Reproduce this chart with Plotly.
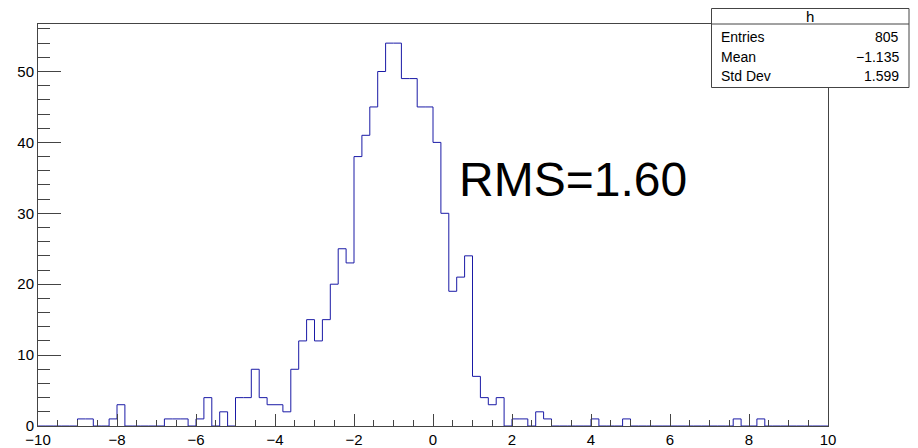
import numpy as np
import plotly.graph_objects as go

# ---- data ----
x_min, x_max, n_bins = -10.0, 10.0, 100
counts = [
    0, 0, 0, 0, 0, 1, 1, 0, 0, 1,
    3, 0, 0, 0, 0, 0, 1, 1, 1, 0,
    1, 4, 0, 2, 0, 4, 4, 8, 4, 3,
    3, 2, 8, 12, 15, 12, 15, 20, 25, 23,
    38, 41, 45, 50, 54, 54, 49, 49, 45, 45,
    40, 30, 19, 21, 24, 7, 4, 3, 4, 0,
    1, 1, 0, 2, 1, 0, 0, 0, 0, 0,
    1, 0, 0, 0, 1, 0, 0, 0, 0, 0,
    0, 0, 0, 0, 0, 0, 0, 0, 1, 0,
    0, 1, 0, 0, 0, 0, 0, 0, 0, 0,
]
hist_name = "h"
stat_labels = ["Entries", "Mean", "Std Dev"]
stat_values = ["805", "\u22121.135", "1.599"]
rms_text = "RMS=1.60"

edges = np.linspace(x_min, x_max, n_bins + 1)
y_step = list(counts) + [counts[-1]]
y_max = max(counts) * 1.05

FONT = "Liberation Sans, Arial, Helvetica, sans-serif"
AX = "#444444"

fig = go.Figure()
fig.add_trace(go.Scatter(
    x=edges, y=y_step, mode="lines", line_shape="hv",
    line=dict(color="#1a1aa6", width=1), hoverinfo="skip", showlegend=False,
))

fig.update_layout(
    width=918, height=448,
    margin=dict(l=38, r=90, t=24, b=22, autoexpand=False),
    paper_bgcolor="white", plot_bgcolor="white",
    font=dict(family=FONT, size=15, color="black"),
    showlegend=False,
)
fig.update_xaxes(
    range=[x_min, x_max], showgrid=False, zeroline=False, automargin=False,
    showline=True, linecolor=AX, linewidth=1, mirror=True,
    ticks="inside", ticklen=12, tickcolor=AX, dtick=2, tick0=0,
    minor=dict(ticks="inside", ticklen=6, dtick=0.5, tickcolor=AX, showgrid=False),
    tickfont=dict(family=FONT, size=15, color="black"),
)
fig.update_yaxes(
    range=[0, y_max], showgrid=False, zeroline=False, automargin=False,
    showline=True, linecolor=AX, linewidth=1, mirror=True,
    ticks="inside", ticklen=23, tickcolor=AX, dtick=10, tick0=0,
    minor=dict(ticks="inside", ticklen=12, dtick=2, tickcolor=AX, showgrid=False),
    tickfont=dict(family=FONT, size=15, color="black"),
)

# ---- stats box (positions in paper coords from pixels) ----
pw, ph = 790.0, 402.0
def px(x):
    return (x - 38) / pw
def py(y):
    return (426 - y) / ph

bx0, bx1, by0, by1, bsep = px(711.5), px(909), py(87.5), py(8.5), py(24)
fig.add_shape(type="rect", xref="paper", yref="paper", x0=bx0, x1=bx1, y0=by0, y1=by1,
              line=dict(color=AX, width=1), fillcolor="white", layer="above")
fig.add_shape(type="line", xref="paper", yref="paper", x0=bx0, x1=bx1, y0=bsep, y1=bsep,
              line=dict(color=AX, width=1), layer="above")
fig.add_annotation(xref="paper", yref="paper", x=(bx0 + bx1) / 2, y=py(16),
                   text=hist_name, showarrow=False, xanchor="center", yanchor="middle",
                   font=dict(family=FONT, size=15, color="black"))
row_y = [37, 56.5, 76]
for lab, val, ry in zip(stat_labels, stat_values, row_y):
    fig.add_annotation(xref="paper", yref="paper", x=px(719), y=py(ry), text=lab,
                       showarrow=False, xanchor="left", yanchor="middle",
                       font=dict(family=FONT, size=14, color="black"))
    fig.add_annotation(xref="paper", yref="paper", x=px(901), y=py(ry), text=val,
                       showarrow=False, xanchor="right", yanchor="middle",
                       font=dict(family=FONT, size=14, color="black"))

# ---- RMS label ----
fig.add_annotation(xref="paper", yref="paper", x=px(457), y=py(179), text=rms_text,
                   showarrow=False, xanchor="left", yanchor="middle",
                   font=dict(family=FONT, size=48, color="black"))

fig.write_html("out.html")
